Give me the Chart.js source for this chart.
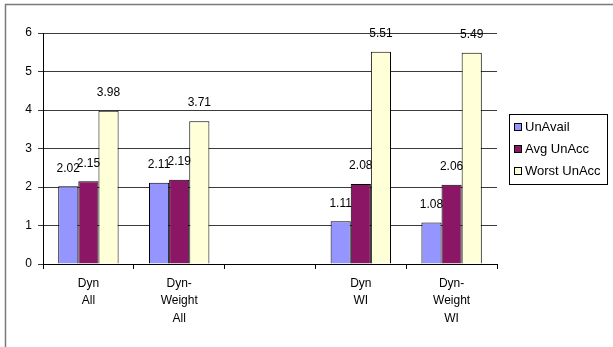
<!DOCTYPE html>
<html>
<head>
<meta charset="utf-8">
<script src="https://cdn.jsdelivr.net/npm/chart.js@4/dist/chart.umd.min.js"></script>
<style>
  html, body { margin: 0; padding: 0; background: #fff; }
  #wrap { width: 613px; height: 347px; position: relative; }
</style>
</head>
<body>
<div id="wrap"><canvas id="c" width="613" height="347"></canvas></div>
<script>
// Categories (multi-line labels), the third slot is an empty spacer
const categories = [["Dyn", "All"], ["Dyn-", "Weight", "All"], "", ["Dyn", "WI"], ["Dyn-", "Weight", "WI"]];
const seriesNames = ["UnAvail", "Avg UnAcc", "Worst UnAcc"];
const unAvail   = [2.02, 2.11, null, 1.11, 1.08];
const avgUnAcc  = [2.15, 2.19, null, 2.08, 2.06];
const worstUnAcc = [3.98, 3.71, null, 5.51, 5.49];
const yTicks = [0, 1, 2, 3, 4, 5, 6];

const colors = ["#9595FF", "#8C1666", "#FFFFD8"];
const FONT = "'Liberation Sans', Arial, sans-serif";

// Outer frame (left and top edges visible)
const framePlugin = {
  id: 'frame',
  beforeDraw(chart) {
    const ctx = chart.ctx;
    ctx.save();
    ctx.strokeStyle = '#7a7a7a';
    ctx.lineWidth = 1.5;
    ctx.beginPath();
    ctx.moveTo(5.5, 347);
    ctx.lineTo(5.5, 4.5);
    ctx.lineTo(613, 4.5);
    ctx.stroke();
    ctx.restore();
  }
};

// Value labels above each bar
const valueLabels = {
  id: 'valueLabels',
  afterDatasetsDraw(chart) {
    const ctx = chart.ctx;
    ctx.save();
    ctx.font = '12px ' + FONT;
    ctx.fillStyle = '#000';
    ctx.textAlign = 'center';
    ctx.textBaseline = 'middle';
    chart.data.datasets.forEach((ds, i) => {
      const meta = chart.getDatasetMeta(i);
      meta.data.forEach((bar, j) => {
        const v = ds.data[j];
        if (v === null || v === undefined) return;
        ctx.fillText(v.toFixed(2), bar.x, bar.y - 18);
      });
    });
    ctx.restore();
  }
};

// Boxed legend on the right
const boxLegend = {
  id: 'boxLegend',
  afterDraw(chart) {
    const ctx = chart.ctx;
    const x0 = 509.5, y0 = 114.5, w = 98, h = 70;
    ctx.save();
    ctx.fillStyle = '#fff';
    ctx.fillRect(x0, y0, w, h);
    ctx.strokeStyle = '#000';
    ctx.lineWidth = 1;
    ctx.strokeRect(x0, y0, w, h);
    ctx.font = '13px ' + FONT;
    ctx.textBaseline = 'middle';
    ctx.textAlign = 'left';
    const rows = [127, 149, 171];
    chart.data.datasets.forEach((ds, i) => {
      const cy = rows[i];
      ctx.fillStyle = ds.backgroundColor;
      ctx.fillRect(514.5, cy - 3.5, 7, 7);
      ctx.strokeStyle = '#000';
      ctx.strokeRect(514.5, cy - 3.5, 7, 7);
      ctx.fillStyle = '#000';
      ctx.fillText(ds.label, 525, cy + 0.5);
    });
    ctx.restore();
  }
};

new Chart(document.getElementById('c'), {
  type: 'bar',
  data: {
    labels: categories,
    datasets: [
      { label: seriesNames[0], data: unAvail, backgroundColor: colors[0] },
      { label: seriesNames[1], data: avgUnAcc, backgroundColor: colors[1] },
      { label: seriesNames[2], data: worstUnAcc, backgroundColor: colors[2] }
    ].map(d => Object.assign(d, {
      borderColor: '#000', borderWidth: 1, borderSkipped: 'bottom',
      categoryPercentage: 0.665, barPercentage: 1.0
    }))
  },
  options: {
    responsive: false,
    animation: false,
    layout: { padding: { left: 0, right: 116, top: 33, bottom: 0 } },
    plugins: { legend: { display: false }, tooltip: { enabled: false } },
    scales: {
      x: {
        grid: { display: true, drawOnChartArea: false, offset: true, tickLength: 5, color: '#000' },
        border: { color: '#000', width: 1 },
        ticks: { color: '#000', font: { family: FONT, size: 12, lineHeight: 1.45 }, maxRotation: 0, autoSkip: false, padding: 6 },
        afterFit(s) { s.height = 83; }
      },
      y: {
        min: 0, max: 6,
        afterBuildTicks(s) { s.ticks = yTicks.map(v => ({ value: v })); },
        grid: { color: '#3a3a3a', tickLength: 5 },
        border: { color: '#000', width: 1 },
        ticks: { color: '#000', font: { family: FONT, size: 12 }, padding: 6 },
        afterFit(s) { s.width = 43; }
      }
    }
  },
  plugins: [framePlugin, valueLabels, boxLegend]
});
</script>
</body>
</html>
